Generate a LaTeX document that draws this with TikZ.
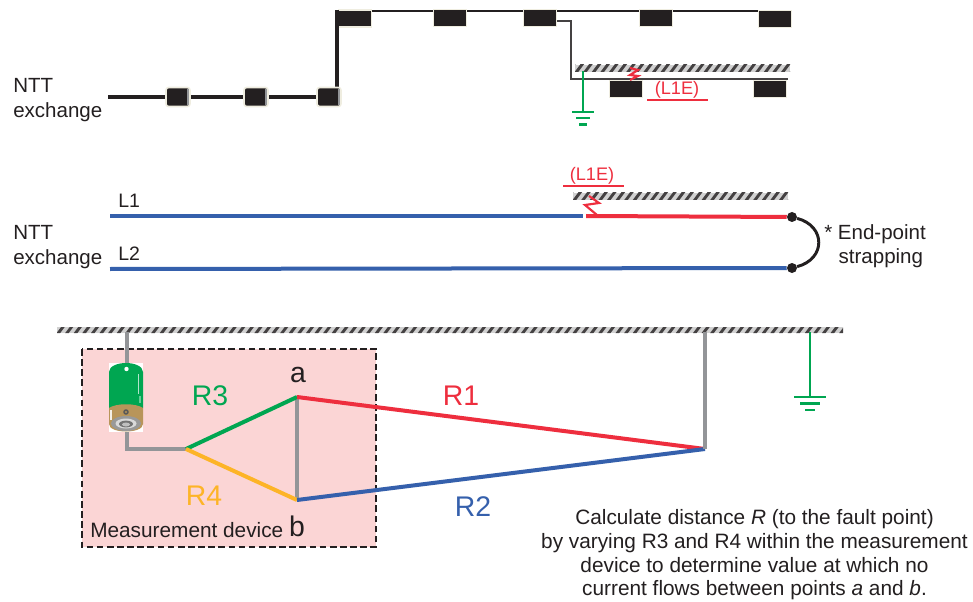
\documentclass[tikz,border=0pt]{standalone}
\usepackage{fontspec}
\setmainfont{Liberation Sans}
\definecolor{cblack}{HTML}{231F20}
\definecolor{cgray}{HTML}{939598}
\definecolor{cblue}{HTML}{3560AC}
\definecolor{cred}{HTML}{EE2E3E}
\definecolor{cgreen}{HTML}{00A651}
\definecolor{corange}{HTML}{FDB427}
\definecolor{cpink}{HTML}{FBD5D5}
\definecolor{ccream}{HTML}{EFEDE0}
\definecolor{ctan}{HTML}{B8955A}
\newcommand{\hatchbar}[4]{%
  \begin{scope}
    \clip (#1,#3) rectangle (#2,#4);
    \fill[black!18] (#1,#3) rectangle (#2,#4);
    \pgfmathsetmacro{\hatchstart}{#1-9}
    \pgfmathsetmacro{\hatchend}{#2+10}
    \pgfmathsetmacro{\hatchnext}{#1-9+8.6}
    \foreach \hx in {\hatchstart,\hatchnext,...,\hatchend}
      \fill[cblack!85] (\hx,#4) -- ++(3.6,0) -- ++(6,-8) -- ++(-3.6,0) -- cycle;
  \end{scope}}
\tikzset{
  x=0.75pt,y=-0.75pt,
  every node/.style={font=\fontsize{15.4}{18.4}\selectfont,text=cblack,inner sep=0pt},
  drum/.style={fill=cblack,draw=ccream,line width=1.2pt,rounded corners=2pt,minimum width=24*0.75pt,minimum height=19*0.75pt},
  sbox/.style={fill=cblack,draw=ccream,line width=1.4pt,minimum width=33*0.75pt,minimum height=17*0.75pt},
  gnd/.style={line width=2.2pt,cgreen},
  wire/.style={line width=2.8pt,cgray},
  arm/.style={line width=3pt},
  big/.style={font=\fontsize{21.3}{24}\selectfont},
  fault/.style={font=\fontsize{13.6}{15}\selectfont,text=cred},
  zig/.style={line width=1.6pt,cred,line join=miter},
  uline/.style={line width=1pt,cred},
  thinw/.style={line width=1.1pt,cblack},
}
\begin{document}
\begin{tikzpicture}
\useasboundingbox (0,0) rectangle (973,602);
\fill[white] (0,0) rectangle (973,602);
% ---- top panel
\node[align=left,anchor=west] (ntt1) at (13,100) {NTT\\exchange};
\coordinate (s0) at (108,97);
\coordinate (top) at (337,11);
\node[sbox] (b1) at (355,18.5) {};
\node[sbox] (b2) at (450,18) {};
\node[sbox] (b3) at (540,18) {};
\node[sbox] (b4) at (656,18) {};
\node[sbox] (b5) at (775,19) {};
\node[sbox] (b6) at (626,89) {};
\node[sbox] (b7) at (770,89) {};
\coordinate (t1) at (571,21);
\coordinate (t2) at (571,79);
\coordinate (t3) at (788,79);
\draw[thinw] (top) -- (b1.west |- top) (b1.east |- top) -- (b2.west |- top) (b2.east |- top) -- (b3.west |- top) (b3.east |- top) -- (b4.west |- top) (b4.east |- top) -- (b5.west |- top);
\draw[line width=3pt,cblack] (s0) -- (328,97);
\draw[line width=3pt,cblack] (337,90) -- (337,10.5);
\node[drum] (d1) at (178,97) {};
\node[drum] (d2) at (256,97) {};
\node[drum] (d3) at (329,97) {};
\foreach \d in {d1,d2,d3} \draw[cgray,line width=1.3pt] ([xshift=-2.2pt,yshift=-2pt]\d.north east) -- ([xshift=-2.2pt,yshift=2pt]\d.south east);
\draw[line width=1.2pt,cblack!85] (b3.east |- t1) -- (t1) -- (t2) -- (t3);
\hatchbar{575}{790}{65}{72}
\coordinate (g1) at (583,112);
\draw[gnd] (583,71) -- (g1);
\draw[gnd] (572,112) -- (594,112) (576,118) -- (590,118) (579,124.5) -- (587,124.5);
\draw[zig] (630,68) -- (638,70) -- (630,75) -- (638,76) -- (630,80);
\node[fault] (f1) at (677,90) {(L1E)};
\draw[uline] (647,100) -- (708,100);
% ---- middle panel
\node[align=left,anchor=west] (ntt2) at (13,247) {NTT\\exchange};
\node[anchor=west,font=\fontsize{14.6}{17}\selectfont] (l1) at (118,201) {L1};
\node[anchor=west,font=\fontsize{14.6}{17}\selectfont] (l2) at (118,254) {L2};
\hatchbar{573}{788}{193}{200}
\coordinate (m1) at (110,216);
\coordinate (m2) at (583,216);
\coordinate (m3) at (586,216);
\coordinate (m4) at (110,269);
\node[circle,fill=cblack,minimum size=7.5pt] (p1) at (792,217) {};
\node[circle,fill=cblack,minimum size=7.5pt] (p2) at (792,268) {};
\draw[arm,cblue] (m1) -- (m2);
\draw[arm,cred] (m3) -- (p1);
\draw[arm,cblue] (m4) -- (p2);
\draw[line width=2.2pt,cblack] (p1) .. controls (826,226) and (826,259) .. (p2);
\draw[zig] (589,196) -- (599,203) -- (585,205) -- (597,215);
\node[fault] (f2) at (592,176) {(L1E)};
\draw[uline] (563,186) -- (624,186);
\node[align=left,anchor=north west] (strap) at (824,224) {* End-point\\\hspace{10.75pt}strapping};
% ---- bottom panel
\draw[fill=cpink,draw=cblack,line width=2pt,dash pattern=on 5pt off 2.6pt] (82,349) rectangle (376,547);
\node[anchor=west,font=\fontsize{15.6}{18}\selectfont] (md) at (90,530) {Measurement device};
\hatchbar{57}{843}{327}{333}
\coordinate (top1) at (127,332);
\coordinate (top2) at (705,332);
\coordinate (c) at (186,449);
\coordinate (cw) at (127,449);
\coordinate (ja) at (297,397);
\coordinate (jb) at (297,500);
\coordinate (jr) at (705,449);
\node[rectangle,minimum width=25.5pt,minimum height=50pt] (batt) at (126.5,397) {};
\draw[wire] (top1) -- (batt.north -| top1);
\draw[wire] (batt.south -| cw) -- (cw) -- (c);
% battery
\fill[white] (109,363) rectangle (143,432);
\fill[cgreen] (109,372) .. controls (109,366) and (118,363) .. (126,363) .. controls (134,363) and (143,366) .. (143,372) -- (143,408) -- (109,408) -- cycle;
\fill[ctan] (109,408) .. controls (116,403) and (136,403) .. (143,408) -- (143,424) .. controls (143,434) and (109,434) .. (109,424) -- cycle;
\fill[white!85!ctan] (110,410) rectangle (111.5,420);
\fill[white!70!cgreen] (138,374) rectangle (139,394);
\fill[cgreen!60!white] (139,396) rectangle (140.5,403);
\fill[white] (126.5,369) circle (2.2);
\fill[black!65] (126,412) circle (2.8);
\fill[ctan] (126,412) circle (1.2);
\fill[black!40] (126,423.5) ellipse (15 and 7.5);
\fill[black!15] (126,423.5) ellipse (10.5 and 5);
\fill[black!55] (126,424) ellipse (7 and 3.4);
\fill[black!25] (126,424.5) ellipse (4 and 2);
\draw[wire] (ja) -- (jb);
\draw[arm,cgreen] (c) -- (ja);
\draw[arm,corange] (c) -- (jb);
\draw[arm,cred] (ja) -- (jr);
\draw[arm,cblue] (jb) -- (jr);
\draw[wire] (top2) -- (jr);
\coordinate (g2) at (810,397);
\draw[gnd] (810,332) -- (g2);
\draw[gnd] (794,397) -- (826,397) (800,403.5) -- (820,403.5) (805,410) -- (815,410);
\node[big,text=cgreen] (r3) at (210,396) {R3};
\node[big,text=corange] (r4) at (204,496) {R4};
\node[big,text=cred] (r1) at (461,396) {R1};
\node[big,text=cblue] (r2) at (473,507) {R2};
\node[big] (la) at (298,375) {a};
\node[big] (lb) at (297,526) {b};
\node[align=center,font=\fontsize{15.6}{17.8}\selectfont] (calc) at (754.5,555) {Calculate distance \textit{R} (to the fault point)\\by varying R3 and R4 within the measurement\\device to determine value at which no\\current flows between points \textit{a} and \textit{b}.};
\end{tikzpicture}
\end{document}
